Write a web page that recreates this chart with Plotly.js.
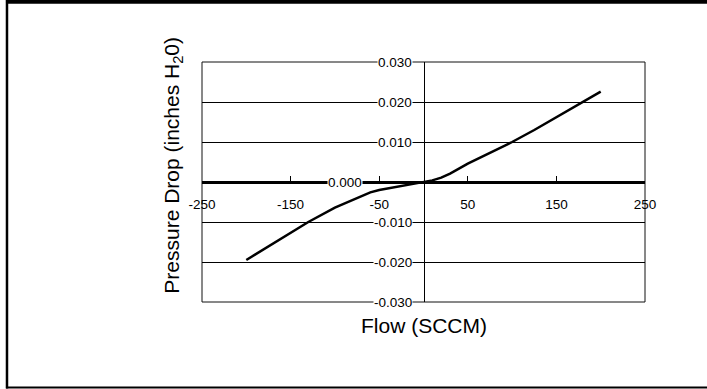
<!DOCTYPE html>
<html>
<head>
<meta charset="utf-8">
<script src="https://cdn.plot.ly/plotly-3.0.1.min.js"></script>
<style>
html,body{margin:0;padding:0;background:#fff;}
#chart{width:707px;height:389px;}
</style>
</head>
<body>
<div id="chart"></div>
<script>
// Data
var flow = [-200, -175, -150, -130, -100, -75, -60, -50, -40, -25, -10, 0, 10, 20, 30, 50, 75, 100, 125, 150, 175, 200];
var pressureDrop = [-0.0195, -0.0161, -0.0127, -0.0100, -0.0064, -0.0040, -0.0026, -0.0020, -0.0016, -0.0011, -0.0005, 0, 0.0004, 0.0011, 0.0021, 0.0046, 0.0073, 0.0100, 0.0130, 0.0162, 0.0196, 0.0226];

var xTickVals = [-250, -150, -50, 50, 150, 250];
var xTickText = ['-250', '-150', '-50', '50', '150', '250'];
var yTickVals = [0.03, 0.02, 0.01, 0, -0.01, -0.02, -0.03];
var yTickText = ['0.030', '0.020', '0.010', '0.000', '-0.010', '-0.020', '-0.030'];

var xTitle = 'Flow (SCCM)';
var yTitle = 'Pressure Drop (inches H<sub>2</sub>0)';

var FONT = 'Liberation Sans, Arial, sans-serif';
var tickFontSize = 13.5;

var annotations = yTickVals.map(function (v, i) {
  var isZero = (v === 0);
  return {
    xref: 'x', yref: 'y', x: 0, y: v,
    text: yTickText[i],
    showarrow: false,
    xanchor: isZero ? 'center' : 'right',
    yanchor: 'middle',
    xshift: isZero ? -79 : -11,
    bgcolor: '#ffffff',
    borderpad: 0,
    font: {family: FONT, size: tickFontSize, color: '#000'}
  };
});

annotations.push({
  xref: 'paper', yref: 'paper', x: 0.5, y: -0.096,
  text: xTitle, showarrow: false, xanchor: 'center', yanchor: 'middle',
  font: {family: FONT, size: 21, color: '#000'}
});
annotations.push({
  xref: 'paper', yref: 'paper', x: -0.066, y: 0.571,
  text: yTitle, showarrow: false, xanchor: 'center', yanchor: 'middle',
  textangle: -90,
  font: {family: FONT, size: 21, color: '#000'}
});

var shapes = [
  // plot area border
  {type: 'rect', xref: 'paper', yref: 'paper', x0: 0, y0: 0, x1: 1, y1: 1,
   line: {color: '#111', width: 1}, layer: 'between'},
  // outer frame: top, left, bottom
  {type: 'line', xref: 'paper', yref: 'paper', x0: -0.4425, x1: 1.15, y0: 1.2508, y1: 1.2508,
   line: {color: '#000', width: 4}},
  {type: 'line', xref: 'paper', yref: 'paper', x0: -0.4402, x1: -0.4402, y0: 1.26, y1: -0.36,
   line: {color: '#000', width: 2.5}},
  {type: 'line', xref: 'paper', yref: 'paper', x0: -0.4425, x1: 1.15, y0: -0.3563, y1: -0.3563,
   line: {color: '#000', width: 2}}
];

var trace = {
  type: 'scatter', mode: 'lines',
  x: flow, y: pressureDrop,
  line: {color: '#000', width: 2.5, shape: 'linear'},
  hoverinfo: 'skip'
};

var layout = {
  width: 707, height: 389,
  margin: {l: 202, r: 62, t: 62, b: 87, pad: 0},
  paper_bgcolor: '#ffffff', plot_bgcolor: '#ffffff',
  showlegend: false,
  xaxis: {
    range: [-250, 250], anchor: 'free', position: 0.5,
    showline: true, linecolor: '#000', linewidth: 3,
    ticks: 'inside', ticklen: 5, tickwidth: 1, tickcolor: '#000',
    tickvals: xTickVals, ticktext: xTickText,
    ticklabelstandoff: 9,
    showgrid: false, zeroline: false, fixedrange: true,
    tickfont: {family: FONT, size: tickFontSize, color: '#000'}
  },
  yaxis: {
    range: [-0.03, 0.03], anchor: 'free', position: 0.5,
    showline: true, linecolor: '#000', linewidth: 1,
    showgrid: true, gridcolor: '#000', gridwidth: 1,
    tickvals: yTickVals, showticklabels: false, ticks: '',
    zeroline: false, fixedrange: true
  },
  annotations: annotations,
  shapes: shapes
};

Plotly.newPlot('chart', [trace], layout, {staticPlot: true, displayModeBar: false});
</script>
</body>
</html>
